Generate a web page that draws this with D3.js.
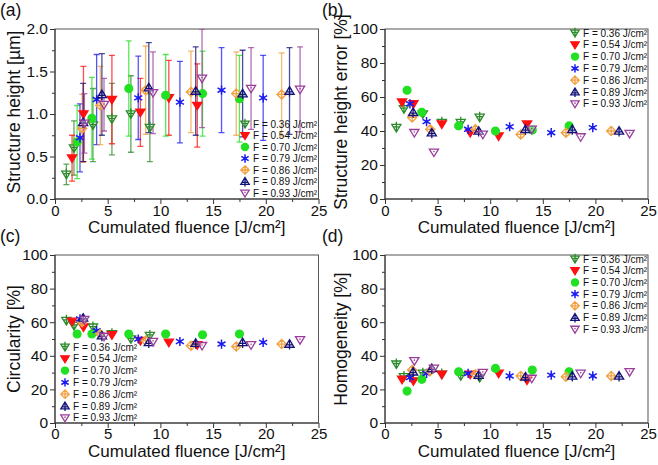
<!DOCTYPE html>
<html><head><meta charset="utf-8">
<script src="https://cdn.jsdelivr.net/npm/d3@7/dist/d3.min.js"></script>
<style>
body{margin:0;background:#fff;}
svg{display:block;font-family:Arial,"Liberation Sans",sans-serif;}
</style></head>
<body>
<svg id="chart" width="658" height="465"></svg>
<script>
// ---------------- data ----------------
const fluenceLabels = ["F = 0.36 J/cm²","F = 0.54 J/cm²","F = 0.70 J/cm²","F = 0.79 J/cm²","F = 0.86 J/cm²","F = 0.89 J/cm²","F = 0.93 J/cm²"];
const seriesColors = ["#2b8a2b","#ff1010","#22e022","#1c1cf0","#f2a040","#12127a","#9a3d9a"];
const seriesSymbols = ["triDownPlus","triDown","circle","asterisk","diamondPlus","triUpPlus","triDownOpen"];

const cumFluence = [
  [1.08, 1.8, 3.6, 5.4, 7.2, 9.0],
  [1.62, 2.7, 5.4, 8.1, 10.8, 13.5],
  [2.1, 3.5, 7.0, 10.5, 14.0, 17.5],
  [2.37, 3.95, 7.9, 11.85, 15.8, 19.75],
  [2.58, 4.3, 8.6, 12.9, 17.2, 21.5],
  [2.67, 4.45, 8.9, 13.35, 17.8, 22.25],
  [2.79, 4.65, 9.3, 13.95, 18.6, 23.25]
];
const heightUm = [
  [0.29, 0.60, 0.87, 0.94, 1.00, 0.84],
  [0.48, 1.00, 1.17, 1.02, 1.19, 1.10],
  [0.67, 0.95, 1.30, 1.22, 1.24, 1.18],
  [0.72, 1.17, 1.19, 1.14, 1.28, 1.19],
  [0.83, 1.10, 1.28, 1.26, 1.24, 1.23],
  [0.90, 1.23, 1.31, 1.27, 1.24, 1.27],
  [0.89, 1.11, 1.25, 1.42, 1.30, 1.29]
];
const heightSdUm = [
  [0.12, 0.32, 0.43, 0.42, 0.45, 0.40],
  [0.27, 0.56, 0.52, 0.40, 0.44, 0.49],
  [0.43, 0.48, 0.56, 0.48, 0.50, 0.51],
  [0.40, 0.53, 0.49, 0.48, 0.50, 0.50],
  [0.40, 0.46, 0.52, 0.48, 0.49, 0.49],
  [0.46, 0.48, 0.53, 0.52, 0.51, 0.51],
  [0.35, 0.31, 0.48, 0.58, 0.48, 0.50]
];
const heightErrPct = [
  [42, 53, 50, 45, 45, 48],
  [57, 56, 44, 39, 37, 44],
  [64, 51, 43, 40, 40.5, 43],
  [56, 45.5, 41, 42.5, 39, 42],
  [48, 41, 41, 38, 39, 40],
  [51, 39, 40, 41, 41, 40],
  [39, 27.5, 38, 41, 36.5, 38.5]
];
const circularityPct = [
  [61, 58, 57, 53, 50, 52],
  [60.5, 57, 52.5, 49, 48, 46.5],
  [53, 53, 53, 53, 52.5, 53],
  [62, 55, 50, 48.5, 47, 48],
  [60, 53, 49, 46, 45.5, 47],
  [62.5, 52, 48, 47.5, 48, 47],
  [61.5, 51.5, 48.5, 46, 46.5, 49.5]
];
const homogeneityPct = [
  [35, 27.5, 29.5, 29, 28, 27],
  [26, 25, 29, 29, 29.5, 25.5],
  [19, 26, 30.5, 32.5, 31.5, 30.5],
  [27, 29.5, 29.5, 28, 28.5, 28],
  [31.5, 31, 29, 28, 27.5, 28],
  [30.5, 32.5, 28.5, 27.5, 28, 28],
  [37, 32.5, 30, 26.5, 29.5, 30.5]
];
const xTicks = [0, 5, 10, 15, 20, 25];
const heightTicks = [0.0, 0.5, 1.0, 1.5, 2.0];
const pctTicks = [0, 20, 40, 60, 80, 100];

// ---------------- layout ----------------
const svg = d3.select("#chart");
const panels = [
  {id:"(a)", lx:0, ly:16, box:[55,318.5,29,199], yDomain:[0,2], yTicks:heightTicks, yMinor:0.25, fmt:d3.format(".1f"),
   yTitle:"Structure height [µm]", ytx:20, yty:112, ytSize:17.5, values:heightUm, sd:heightSdUm, legend:{x:245, y:124, dy:11.5}, xTitleY:233, xPad:1.5},
  {id:"(b)", lx:322, ly:16, box:[385,648,29,199], yDomain:[0,100], yTicks:pctTicks, yMinor:10, fmt:d3.format("d"),
   yTitle:"Structure height error [%]", ytx:347, yty:112, ytSize:17.5, values:heightErrPct, legend:{x:575, y:33, dy:11.8}, xTitleY:233, xPad:1.5},
  {id:"(c)", lx:0, ly:242, box:[55,318.5,255,423], yDomain:[0,100], yTicks:pctTicks, yMinor:10, fmt:d3.format("d"),
   yTitle:"Circularity [%]", ytx:20, yty:339, ytSize:17.5, values:circularityPct, legend:{x:65, y:347, dy:11.8}, xTitleY:457, xPad:0},
  {id:"(d)", lx:322, ly:242, box:[385,648,255,423], yDomain:[0,100], yTicks:pctTicks, yMinor:10, fmt:d3.format("d"),
   yTitle:"Homogeneity [%]", ytx:347, yty:339, ytSize:17.5, values:homogeneityPct, legend:{x:575, y:259, dy:11.7}, xTitleY:457, xPad:0}
];

function symbolPath(type, s){
  const p = d3.path();
  if(type==="triDown"||type==="triDownPlus"||type==="triDownOpen"){
    p.moveTo(-s,-0.7*s); p.lineTo(s,-0.7*s); p.lineTo(0,0.95*s); p.closePath();
    if(type==="triDownPlus"){ p.moveTo(0,-1.25*s); p.lineTo(0,0.95*s); p.moveTo(-0.6*s,-0.15*s); p.lineTo(0.6*s,-0.15*s); }
  } else if(type==="triUpPlus"){
    p.moveTo(0,-0.95*s); p.lineTo(s,0.7*s); p.lineTo(-s,0.7*s); p.closePath();
    p.moveTo(0,-0.95*s); p.lineTo(0,1.2*s); p.moveTo(-0.6*s,0.2*s); p.lineTo(0.6*s,0.2*s);
  } else if(type==="diamondPlus"){
    p.moveTo(0,-s); p.lineTo(s,0); p.lineTo(0,s); p.lineTo(-s,0); p.closePath();
    p.moveTo(0,-s); p.lineTo(0,s); p.moveTo(-s,0); p.lineTo(s,0);
  } else if(type==="asterisk"){
    for(const a of [90,30,-30]){
      const r=a*Math.PI/180, dx=Math.cos(r)*s, dy=Math.sin(r)*s;
      p.moveTo(-dx,-dy); p.lineTo(dx,dy);
    }
  } else if(type==="circle"){
    p.arc(0,0,s*0.85,0,2*Math.PI);
  }
  return p.toString();
}

function drawMarker(g, i, x, y, s){
  const type = seriesSymbols[i], c = seriesColors[i];
  const filled = (type==="triDown"||type==="circle");
  g.append("path").attr("transform",`translate(${x},${y})`).attr("d",symbolPath(type,s))
    .attr("fill", filled ? c : (type==="asterisk" ? "none" : "rgba(255,255,255,0.35)"))
    .attr("stroke", c).attr("stroke-width", type==="asterisk"?1.5:1.3).attr("stroke-linejoin","miter");
  if(type==="asterisk"){
    g.append("circle").attr("cx",x).attr("cy",y).attr("r",s*0.35).attr("fill",c);
  }
  if(type==="triDownOpen"){
    g.append("circle").attr("cx",x).attr("cy",y-0.15*s).attr("r",0.8).attr("fill",c);
  }
}

panels.forEach(P=>{
  const [x0,x1,y0,y1] = P.box;
  const x = d3.scaleLinear().domain([0,25]).range([x0,x1]);
  const y = d3.scaleLinear().domain(P.yDomain).range([y1,y0]);
  const g = svg.append("g");

  // plot frame
  g.append("rect").attr("x",x0).attr("y",y0).attr("width",x1-x0).attr("height",y1-y0)
    .attr("fill","none").attr("stroke","#555").attr("stroke-width",1);

  // x axis (major + minor)
  const xMinor = d3.range(0,25.01,2.5).filter(v=>v%5!==0);
  g.append("g").attr("transform",`translate(0,${y1})`)
    .call(d3.axisBottom(x).tickValues(xMinor).tickSize(3).tickFormat(""))
    .call(a=>a.select(".domain").remove())
    .call(a=>a.selectAll("line").attr("stroke","#333"));
  g.append("g").attr("transform",`translate(0,${y1})`)
    .call(d3.axisBottom(x).tickValues(xTicks).tickSize(5).tickPadding(P.xPad).tickFormat(d3.format("d")))
    .call(a=>a.select(".domain").attr("stroke","#333").attr("d",`M${x0},0H${x1}`))
    .call(a=>a.selectAll("line").attr("stroke","#333"))
    .call(a=>a.selectAll("text").attr("font-size",15).attr("fill","#111").attr("font-family","Arial, Liberation Sans, sans-serif"));

  // y axis
  const yMinor = d3.range(P.yDomain[0], P.yDomain[1]+1e-9, P.yMinor).filter(v=>!P.yTicks.some(t=>Math.abs(t-v)<1e-9));
  g.append("g").attr("transform",`translate(${x0},0)`)
    .call(d3.axisLeft(y).tickValues(yMinor).tickSize(3).tickFormat(""))
    .call(a=>a.select(".domain").remove())
    .call(a=>a.selectAll("line").attr("stroke","#333"));
  g.append("g").attr("transform",`translate(${x0},0)`)
    .call(d3.axisLeft(y).tickValues(P.yTicks).tickSize(5).tickPadding(2).tickFormat(P.fmt))
    .call(a=>a.select(".domain").attr("stroke","#333").attr("d",`M0,${y1}V${y0}`))
    .call(a=>a.selectAll("line").attr("stroke","#333"))
    .call(a=>a.selectAll("text").attr("font-size",15.5).attr("fill","#111").attr("font-family","Arial, Liberation Sans, sans-serif"));

  // titles
  g.append("text").attr("x",(x0+x1)/2).attr("y",P.xTitleY).attr("text-anchor","middle")
    .attr("font-size",17).attr("fill","#111").text("Cumulated fluence [J/cm²]");
  g.append("text").attr("transform",`translate(${P.ytx},${P.yty}) rotate(-90)`).attr("text-anchor","middle")
    .attr("font-size",P.ytSize).attr("fill","#111").text(P.yTitle);
  g.append("text").attr("x",P.lx).attr("y",P.ly).attr("font-size",17.5).attr("fill","#111").text(P.id);

  // data
  const plot = g.append("g");
  if(P.sd){
    const clipId = "clip"+P.id.replace(/[()]/g,"");
    svg.append("defs").append("clipPath").attr("id",clipId)
      .append("rect").attr("x",x0).attr("y",y0).attr("width",x1-x0).attr("height",y1-y0);
    const eb = plot.append("g").attr("clip-path",`url(#${clipId})`);
    cumFluence.forEach((xs,i)=>{
      xs.forEach((xv,j)=>{
        const v = P.values[i][j], e = P.sd[i][j];
        const px = x(xv), yt = y(v+e), yb = y(v-e);
        const c = seriesColors[i];
        const bar = eb.append("g").attr("stroke",c).attr("stroke-opacity",0.75).attr("stroke-width",1.3);
        bar.append("line").attr("x1",px).attr("x2",px).attr("y1",yt).attr("y2",yb);
        bar.append("line").attr("x1",px-3).attr("x2",px+3).attr("y1",yt).attr("y2",yt);
        bar.append("line").attr("x1",px-3).attr("x2",px+3).attr("y1",yb).attr("y2",yb);
      });
    });
  }
  cumFluence.forEach((xs,i)=>{
    xs.forEach((xv,j)=>{
      drawMarker(plot, i, x(xv), y(P.values[i][j]), 4.6);
    });
  });

  // legend
  const L = P.legend;
  fluenceLabels.forEach((lab,i)=>{
    const ly = L.y + i*L.dy;
    drawMarker(g, i, L.x, ly, 4.2);
    g.append("text").attr("x",L.x+8).attr("y",ly+3.6).attr("font-size",10).attr("fill","#111").text(lab);
  });
});
</script>
</body></html>
